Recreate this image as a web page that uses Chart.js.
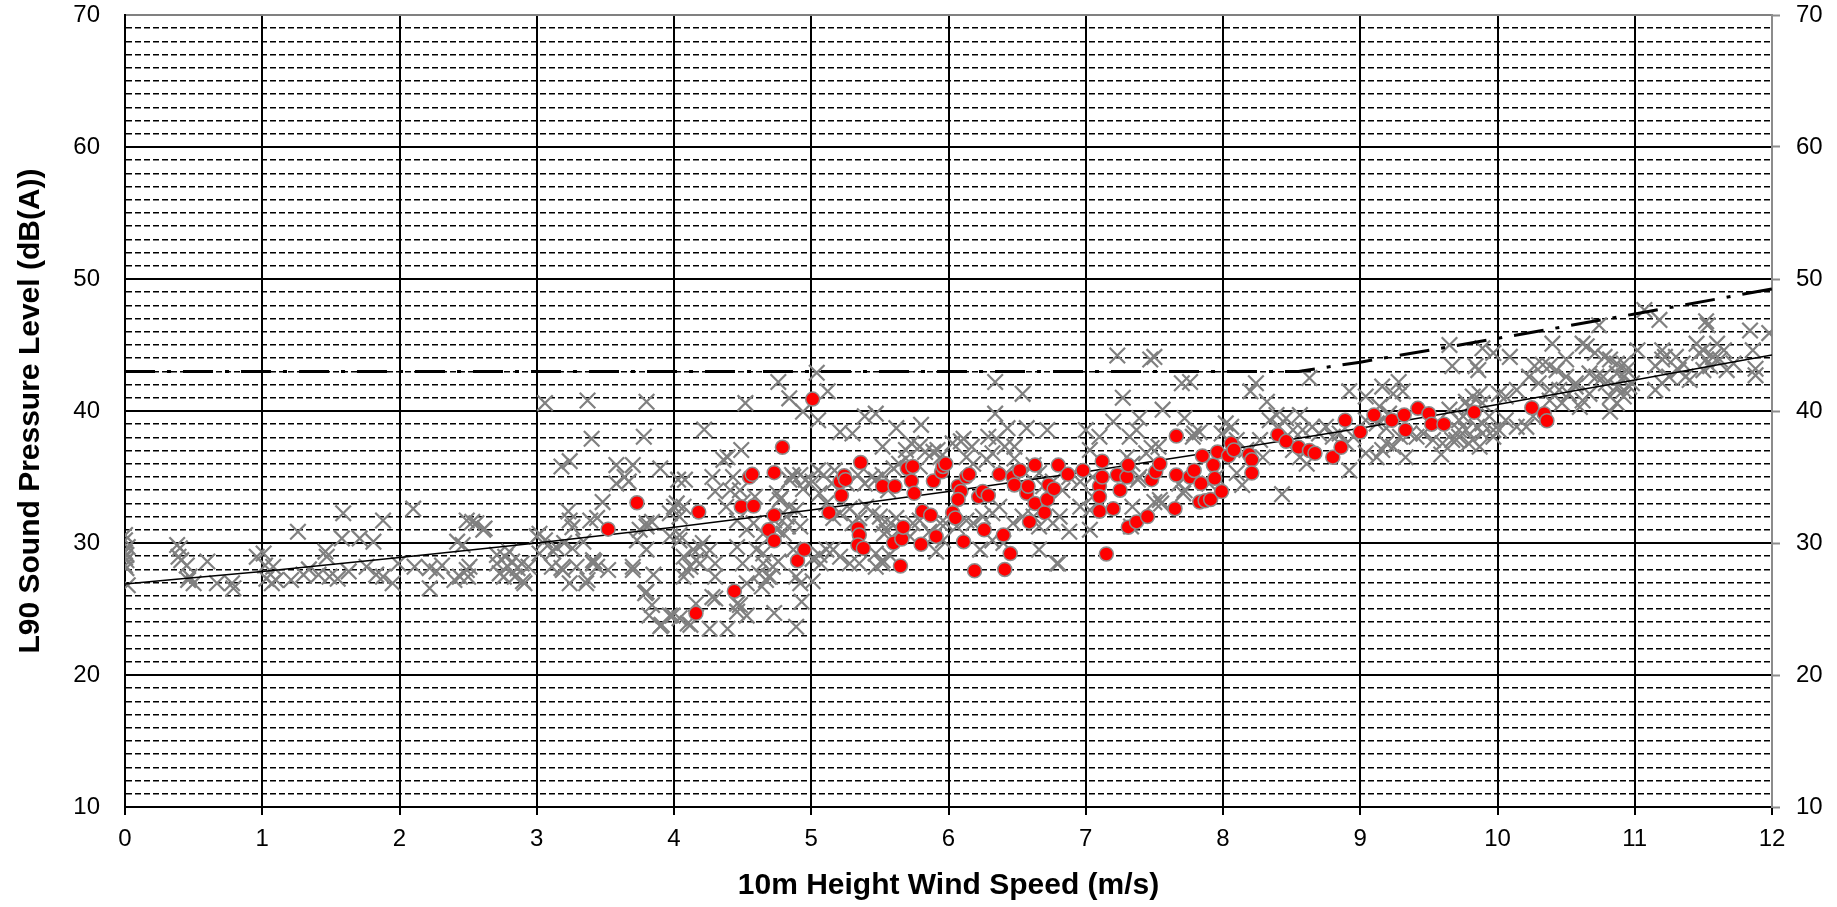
<!DOCTYPE html>
<html>
<head>
<meta charset="utf-8">
<title>L90 vs wind speed</title>
<script src="https://cdn.jsdelivr.net/npm/chart.js@4.4.1/dist/chart.umd.min.js"></script>
<style>
    html, body { margin: 0; padding: 0; background: #fff; }
    #wrap { width: 1837px; height: 907px; }
</style>
</head>
<body>
<div id="wrap"><canvas id="chart"></canvas></div>
<script>
// ================= DATOS =================
const xTicks = [0, 1, 2, 3, 4, 5, 6, 7, 8, 9, 10, 11, 12];
const yMajorTicks = [10, 20, 30, 40, 50, 60, 70];

// curva de tendencia del ruido de fondo
const trendX = [0, 1, 2, 3, 4, 5, 6, 7, 8, 9, 10, 11, 12];
const trendY = [26.9, 27.85, 28.9, 30.0, 31.2, 32.5, 33.9, 35.4, 37.0, 38.7, 40.5, 42.35, 44.25];

// límite (raya-punto)
const limitX = [0, 8.55, 9, 10, 11, 12];
const limitY = [43, 43, 43.7, 45.5, 47.35, 49.25];

// ruido de fondo (cruces grises)
const backgroundPts = [
    [0,30.6],[0,30.2],[0.02,29.7],[0,29.3],[0.01,29.1],[0,28.9],[0.01,28.7],[0,28.3],[0.01,28.1],[0.02,26.8],
    [0.38,29.85],[0.40,29.6],[0.39,28.96],[0.41,28.7],[0.45,28.3],[0.46,27.2],[0.50,26.95],[0.47,27.45],[0.6,28.6],[0.67,26.95],
    [0.78,26.95],[0.79,26.57],[0.96,28.96],[1.01,29.2],[1.02,28.3],[1.08,28.2],[1.03,27.3],[1.07,26.95],[1.1,27.2],[1.21,27.2],
    [1.3,27.6],[1.34,28.0],[1.26,30.85],[1.41,27.6],[1.47,28.96],[1.46,29.35],[1.49,27.45],[1.55,27.3],[1.59,32.25],[1.58,30.35],
    [1.63,27.85],[1.71,30.35],[1.81,30.1],[1.76,28.2],[1.83,27.6],[1.88,27.45],[1.95,26.95],[1.88,31.7],[1.99,28.45],[2.1,32.6],
    [2.11,28.2],[2.22,28.1],[2.22,26.57],[2.27,27.85],[2.31,28.3],[2.4,27.2],[2.44,27.45],[2.49,27.95],[2.5,27.45],[2.51,28.2],
    [2.42,30.1],[2.46,29.85],[2.49,31.7],[2.53,31.6],[2.62,31.1],[2.71,28.45],[2.73,27.7],[2.76,27.45],[2.77,28.96],[2.79,28.2],
    [2.82,28.6],[2.84,27.45],[2.86,28.1],[2.89,28.45],[2.91,26.95],[2.94,28.2],[2.71,29.1],[2.80,29.35],[3.0,30.5],[3.06,30.2],
    [3.14,29.7],[3.2,30.0],[3.26,29.6],[3.02,29.2],[3.11,28.2],[3.18,28.1],[3.24,26.95],[3.36,26.95],[3.41,28.45],[3.18,35.8],
    [3.24,36.2],[3.4,37.9],[3.23,32.4],[3.24,31.7],[3.26,31.2],[3.39,31.7],[3.44,31.9],[3.12,29.35],[3.34,30.1],[3.41,28.7],
    [3.44,28.2],[2.56,31.5],[2.61,31.0],[2.9,27.1],[3.02,30.7],[3.06,40.6],[3.19,27.95],[3.29,28.2],[3.37,40.8],[3.37,27.2],
    [3.42,28.6],[3.52,27.95],[3.48,33.1],[3.58,35.9],[3.64,35.0],[3.7,35.9],[3.78,38.05],[3.8,40.7],[3.9,35.65],[3.73,30.2],
    [3.8,31.25],[3.84,31.6],[3.7,27.95],[3.85,27.6],[3.79,26.2],[3.84,25.3],[3.91,23.8],[3.97,24.5],[4.03,34.8],[4.08,34.8],
    [4.0,32.75],[4.04,32.0],[3.97,30.5],[4.04,30.6],[4.07,28.96],[4.12,28.2],[4.16,28.7],[4.07,27.45],[4.1,23.9],[4.26,23.5],
    [4.39,23.5],[4.22,38.6],[4.3,33.9],[4.36,36.3],[4.39,36.5],[4.49,37.05],[4.19,29.7],[4.26,29.45],[4.3,27.45],[4.28,25.9],
    [4.46,29.7],[4.5,28.45],[4.53,26.95],[4.46,25.4],[4.53,24.5],[4.41,34.0],[4.5,33.1],[4.59,33.5],[4.52,40.6],[4.73,24.7],
    [4.65,28.45],[4.69,27.45],[4.76,28.6],[4.65,30.7],[4.73,31.7],[4.8,30.7],[4.83,31.25],[4.75,33.76],[4.77,33.26],[4.87,35.0],
    [4.76,42.2],[4.84,40.96],[4.89,23.66],[4.89,27.45],[3.82,24.5],[3.9,23.7],[3.99,24.5],[4.04,24.3],[4.12,23.8],[4.16,25.4],
    [4.3,25.8],[4.48,25.3],[4.46,24.8],[4.64,26.7],[4.67,27.2],[4.7,27.45],[4.93,25.55],[4.92,26.95],[5.01,27.1],[5.07,28.45],
    [5.35,28.45],[5.47,28.2],[5.52,28.45],[6.8,28.45],
    [5.04,42.9],[5.12,41.5],[4.94,39.95],[5.05,39.3],[6.34,42.2],[6.54,41.3],[6.34,39.8],[5.21,38.4],[5.3,38.3],[5.39,39.6],
    [5.47,39.8],[5.62,38.7],[5.8,38.95],[5.52,37.3],[6.11,37.9],[6.29,38.05],[6.35,37.9],[6.43,38.7],[6.57,38.7],[6.72,38.56],
    [6.48,37.3],[7.0,38.56],[7.03,37.05],[3.67,34.65],[4.28,35.0],[4.78,33.4],[4.86,35.15],[4.92,35.15],[4.94,34.1],[5.01,34.65],
    [5.05,35.5],[5.09,35.15],[5.15,34.5],[5.17,35.5],[5.26,34.5],[5.34,35.15],[5.39,34.5],[5.44,35.0],[5.47,34.8],[5.52,35.15],
    [5.6,35.65],[5.56,34.0],[5.69,37.05],[5.73,37.55],[5.79,37.3],[5.83,36.9],[5.89,36.9],[5.92,37.05],[5.64,36.0],[5.69,36.4],
    [5.79,35.8],[5.94,36.5],[6.03,37.55],[6.09,37.7],[6.13,36.5],[6.17,37.3],[6.18,36.0],[6.28,36.3],[6.32,36.8],[6.41,37.3],
    [6.48,36.4],[6.42,35.3],[6.49,34.8],[6.55,35.4],[6.62,35.9],[6.66,35.3],[6.69,34.3],[6.76,34.65],[6.83,34.0],[6.88,35.0],
    [6.96,34.65],[7.05,35.0],[7.05,33.5],[7.03,32.5],
    [5.06,33.76],[5.11,33.0],[5.16,31.9],[5.21,32.25],[5.28,32.6],[5.3,31.5],[5.35,31.9],[5.4,32.75],[5.45,32.25],[5.5,32.0],
    [5.52,31.4],[5.55,30.85],[5.58,31.5],[5.62,31.9],[5.64,31.0],[5.72,30.5],[5.74,31.5],[5.79,31.7],[5.86,30.85],[5.89,30.5],
    [5.94,31.5],[5.98,31.5],[6.06,31.25],[6.13,31.7],[6.18,31.5],[6.25,32.0],[6.32,32.25],[6.37,32.75],[6.47,31.5],[6.54,32.0],
    [6.62,32.0],[6.66,31.25],[6.76,31.5],[6.81,32.0],[6.88,30.85],[6.96,32.75],
    [4.87,29.5],[5.01,28.8],[5.06,29.1],[5.11,29.5],[5.16,29.5],[5.21,28.96],[5.28,28.45],[5.47,29.2],[5.53,30.7],[5.52,28.7],
    [5.57,29.1],[5.91,29.35],[5.96,30.2],[6.23,29.5],[6.32,30.2],[6.4,30.0],[6.66,29.5],[6.79,28.45],[7.03,31.0],
    [3.58,34.5],[3.8,31.5],[3.75,31.0],[3.8,29.5],[3.7,28.2],[3.8,26.3],[3.97,32.25],[4.02,33.0],[4.07,32.75],[4.04,30.2],
    [4.14,29.5],[4.19,28.45],[4.09,27.95],[4.3,28.45],[4.21,30.0],[4.43,35.0],[4.48,34.0],[4.38,32.75],[4.46,31.7],[4.53,31.0],
    [4.58,31.5],[4.6,29.5],[4.65,29.2],[4.62,27.7],[4.7,30.5],[4.72,28.2],[4.75,31.0],[4.82,32.0],[4.84,32.75],[4.89,32.5],
    [4.84,34.8],[4.96,34.8],[4.92,31.25],
    [7.23,44.2],[7.47,43.9],[7.5,44.1],[7.7,42.1],[7.76,42.2],[7.27,41.0],[8.63,42.5],[8.24,42.1],[8.2,41.5],[8.32,40.7],
    [7.56,40.1],[7.72,39.45],[7.2,39.2],[7.39,39.45],[7.37,38.56],[7.32,38.05],[7.1,38.05],[7.79,38.3],[7.78,38.05],[7.83,38.4],
    [7.48,37.2],[7.44,36.8],[7.53,37.3],[7.39,35.0],[7.34,36.0],[7.3,36.5],[7.5,33.1],[7.54,33.26],[7.55,33.0],[7.34,32.75],
    [7.33,31.25],[7.38,34.8],[7.68,34.5],[7.71,33.76],[7.72,34.0],[7.9,34.5],[7.95,35.0],[8.02,39.06],[7.99,38.3],[8.06,38.8],
    [8.1,35.3],[8.14,34.4],[8.1,37.8],[8.17,37.05],[8.27,37.8],[8.29,36.5],[8.43,33.7],[8.34,39.3],[8.39,39.7],[8.46,39.45],
    [8.41,38.8],[8.51,38.56],[8.56,39.7],[8.58,38.56],[8.65,38.8],[8.7,38.3],[8.75,38.8],[8.8,38.05],[8.85,38.3],[8.95,38.05],
    [8.9,37.55],[8.92,35.5],[8.56,36.5],[8.61,36.0],[8.51,37.05],[8.92,41.5],[9.04,41.1],[9.16,41.85],[9.28,42.2],[9.24,41.3],
    [9.31,41.5],[9.14,40.35],[9.21,39.8],[9.04,39.3],[9.12,39.06],[9.19,38.7],[9.19,37.55],[9.29,38.05],[9.36,38.3],[9.04,36.8],
    [9.12,36.5],[9.24,37.3],[9.33,36.5],[9.16,37.05],[9.41,38.05],[9.46,38.3],[9.53,37.8],[9.6,37.55],[9.67,37.8],[9.72,38.05],
    [9.77,38.56],[9.85,38.8],[9.89,38.3],[9.97,38.56],[9.65,40.1],[9.82,41.1],[9.77,40.7],[9.87,41.3],[9.94,39.6],[9.89,39.06],
    [9.72,39.3],[9.82,37.8],[9.65,45.0],[9.89,44.75],[9.67,43.4],[9.84,43.4],[9.86,43.1],[9.59,36.7],
    [11.07,47.65],[11.18,46.9],[10.74,46.5],[11.52,46.8],[11.53,46.5],[11.84,46.1],[11.98,45.9],[10.4,45.1],[10.62,45.1],[10.65,44.9],
    [9.97,44.4],[11.2,44.6],[11.22,44.1],[11.45,45.1],[11.5,44.6],[11.6,45.1],[11.65,44.6],[11.86,44.6],[11.88,43.2],[11.88,42.7],
    [10.09,44.1],[10.5,43.9],[10.38,43.4],[10.27,43.4],[10.33,43.5],[10.71,44.4],[10.78,44.1],[10.82,43.9],[10.87,43.6],[10.92,43.6],
    [10.94,43.1],[10.67,42.85],[10.72,42.6],[10.77,42.6],[10.87,42.85],[10.92,42.6],[10.96,41.85],[10.92,41.6],[10.87,41.85],[10.82,41.1],
    [10.79,42.1],[10.57,41.85],[10.62,40.8],[10.67,41.3],[10.6,40.3],[10.82,39.95],[10.87,40.6],[10.92,41.1],[10.98,42.1],[11.02,44.6],
    [11.15,43.4],[11.2,43.9],[11.3,44.1],[11.35,43.6],[11.25,42.6],[11.2,42.1],[11.15,41.6],[11.37,42.6],[11.32,43.1],[11.4,42.35],
    [11.47,44.4],[11.52,43.9],[11.57,44.1],[11.62,43.9],[11.5,43.1],[11.55,43.4],[11.67,43.1],[11.72,43.6],
    [10.43,43.1],[10.5,42.6],[10.57,42.1],[10.52,41.3],[10.45,41.6],[10.38,41.6],[10.3,42.1],[10.23,42.6],[10.14,41.6],[10.06,41.1],
    [10.01,41.3],[9.89,40.6],[9.79,40.3],[9.75,39.6],[9.72,38.56],[9.7,37.8],[9.79,37.55],[9.87,37.3],[9.97,38.05],[10.01,38.56],
    [10.06,39.3],[10.14,38.8],[10.21,38.8],[10.26,39.6],[10.38,40.8],[10.47,40.6]
];

// mediciones con parque operando (círculos rojos)
const operationalPts = [
    [3.52,31.05],[3.73,33.05],[4.18,32.35],[4.16,24.67],[4.44,26.35],[4.49,32.75],[4.58,32.8],[4.55,35.0],[4.57,35.2],[4.73,35.33],
    [4.79,37.25],[4.73,32.1],[4.69,31.0],[4.73,30.17],[4.9,28.66],[4.95,29.5],
    [5.01,40.9],[5.13,32.3],[5.21,34.65],[5.24,35.1],[5.25,34.8],[5.22,33.6],[5.36,36.1],[5.34,31.1],[5.35,30.6],[5.34,29.85],
    [5.38,29.6],[5.52,34.3],[5.61,34.3],[5.6,30.0],[5.66,30.3],[5.67,31.2],[5.65,28.26],[5.7,35.65],[5.74,35.8],[5.73,34.7],
    [5.75,33.76],[5.81,32.4],[5.87,32.1],[5.8,29.9],[5.89,34.7],[5.91,30.5],[5.95,35.4],[5.96,35.8],[5.98,36.0],[6.03,32.3],
    [6.05,31.9],[6.07,34.3],[6.09,33.9],[6.07,33.3],[6.11,30.1],[6.13,35.0],[6.15,35.2],[6.19,27.9],[6.22,33.5],[6.25,33.9],
    [6.29,33.6],[6.26,31.0],[6.37,35.2],[6.4,30.6],[6.41,28.0],[6.45,29.2],[6.47,35.0],[6.48,34.4],[6.52,35.5],[6.57,33.76],
    [6.58,34.3],[6.59,31.6],[6.63,33.0],[6.63,35.9],[6.7,32.3],[6.72,33.3],[6.73,34.4],[6.77,34.1],[6.8,35.9],[6.87,35.2],
    [6.98,35.5],[7.1,34.3],[7.1,33.5],[7.1,32.4],[7.12,36.2],
    [7.12,35.0],[7.15,29.17],[7.2,32.6],[7.23,35.15],[7.3,35.0],[7.31,35.9],[7.25,34.0],[7.31,31.2],[7.37,31.6],[7.45,32.0],
    [7.48,34.8],[7.51,35.4],[7.54,36.0],[7.66,38.1],[7.65,32.6],[7.66,35.15],[7.76,35.0],[7.79,35.5],[7.84,34.5],[7.83,33.1],
    [7.87,33.2],[7.91,33.3],[7.85,36.6],[7.93,35.9],[7.94,34.9],[7.99,33.9],[7.96,36.9],[8.04,36.6],[8.06,37.55],[8.08,37.05],
    [8.19,36.7],[8.21,36.3],[8.21,35.3],[8.4,38.2],[8.46,37.7],[8.55,37.25],[8.63,37.0],[8.67,36.8],[8.8,36.5],[8.86,37.25],
    [8.89,39.3],[9.0,38.4],[9.1,39.7],[9.23,39.3],[9.32,39.7],[9.33,38.56],[9.42,40.2],[9.5,39.8],[9.52,39.0],[9.61,39.0],
    [9.83,39.9],[10.25,40.25],[10.34,39.8],[10.36,39.26]
];

// ================= GRÁFICO =================
const toXY = pts => pts.map(p => ({ x: p[0], y: p[1] }));
const zip = (xs, ys) => xs.map((x, i) => ({ x: x, y: ys[i] }));

const tickFont = { family: '"Liberation Sans", Arial, sans-serif', size: 24 };
const titleFont = { family: '"Liberation Sans", Arial, sans-serif', size: 30, weight: 'bold' };

// sin relleno extra arriba/abajo para que el área quede fija
const noVPad = s => { s.paddingTop = 0; s.paddingBottom = 0; };

new Chart(document.getElementById('chart'), {
    type: 'scatter',
    data: {
        datasets: [
            {
                label: 'Operational',
                data: toXY(operationalPts),
                pointStyle: 'circle',
                pointRadius: 7,
                pointBackgroundColor: '#ff0000',
                pointBorderColor: '#8c8c8c',
                pointBorderWidth: 1.5,
                order: 0
            },
            {
                label: 'Trend',
                type: 'line',
                data: zip(trendX, trendY),
                borderColor: '#000',
                borderWidth: 1.5,
                pointRadius: 0,
                cubicInterpolationMode: 'monotone',
                fill: false,
                order: 1
            },
            {
                label: 'Limit',
                type: 'line',
                data: zip(limitX, limitY),
                borderColor: '#000',
                borderWidth: 3,
                borderDash: [30, 12, 4, 12],
                borderCapStyle: 'butt',
                pointRadius: 0,
                tension: 0,
                fill: false,
                order: 1
            },
            {
                label: 'Background',
                data: toXY(backgroundPts),
                pointStyle: 'crossRot',
                pointRadius: 11,
                pointBorderColor: '#808080',
                pointBorderWidth: 2.2,
                order: 2
            }
        ]
    },
    options: {
        responsive: true,
        maintainAspectRatio: false,
        animation: false,
        layout: { padding: { top: 15, left: 0, right: 0, bottom: 0 } },
        plugins: {
            legend: { display: false },
            tooltip: { enabled: false }
        },
        scales: {
            x: {
                type: 'linear',
                min: xTicks[0],
                max: xTicks[xTicks.length - 1],
                afterBuildTicks: s => { s.ticks = xTicks.map(v => ({ value: v })); },
                afterFit: s => { s.height = 100; s.paddingLeft = 0; s.paddingRight = 0; },
                ticks: {
                    font: tickFont,
                    color: '#000',
                    padding: 10,
                    autoSkip: false,
                    maxRotation: 0
                },
                grid: {
                    color: ctx => (ctx.tick && ctx.tick.value === 12) ? '#808080' : '#000',
                    lineWidth: 2,
                    tickColor: '#000',
                    tickWidth: 2,
                    tickLength: 8
                },
                border: { display: true, color: '#000', width: 2 },
                title: {
                    display: true,
                    text: '10m Height Wind Speed (m/s)',
                    font: titleFont,
                    color: '#000',
                    padding: { top: 0, bottom: 3 }
                }
            },
            y: {
                type: 'linear',
                position: 'left',
                min: 10,
                max: 70,
                afterFit: s => { s.width = 125; noVPad(s); },
                ticks: {
                    stepSize: 1,
                    autoSkip: false,
                    font: tickFont,
                    color: '#000',
                    padding: 25,
                    callback: v => yMajorTicks.includes(v) ? String(v) : ''
                },
                grid: {
                    drawTicks: false,
                    color: ctx => (ctx.tick && ctx.tick.value === 70) ? '#808080' : '#000',
                    lineWidth: ctx => (ctx.tick && yMajorTicks.includes(ctx.tick.value)) ? 2 : 1.5
                },
                border: {
                    display: true,
                    color: '#000',
                    width: 2,
                    dash: ctx => (ctx.tick && !yMajorTicks.includes(ctx.tick.value)) ? [6, 3] : []
                },
                title: {
                    display: true,
                    text: 'L90 Sound Pressure Level (dB(A))',
                    font: titleFont,
                    color: '#000',
                    padding: { top: 13, bottom: 0 }
                }
            },
            y2: {
                type: 'linear',
                position: 'right',
                min: 10,
                max: 70,
                afterFit: s => { s.width = 65; noVPad(s); },
                ticks: {
                    stepSize: 10,
                    autoSkip: false,
                    font: tickFont,
                    color: '#000',
                    padding: 16
                },
                grid: {
                    drawOnChartArea: false,
                    tickColor: '#8c8c8c',
                    tickWidth: 2,
                    tickLength: 8
                },
                border: { display: true, color: '#8c8c8c', width: 2 }
            }
        }
    }
});
</script>
</body>
</html>
